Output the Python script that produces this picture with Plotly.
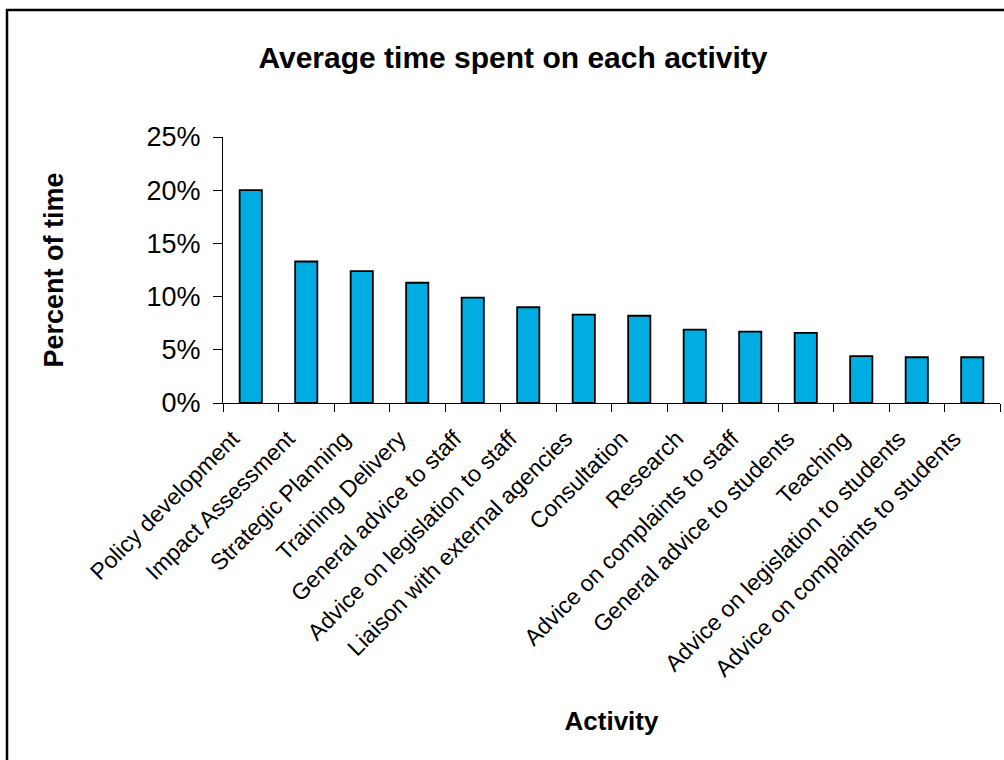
import plotly.graph_objects as go

activities = [
    "Policy development",
    "Impact Assessment",
    "Strategic Planning",
    "Training Delivery",
    "General advice to staff",
    "Advice on legislation to staff",
    "Liaison with external agencies",
    "Consultation",
    "Research",
    "Advice on complaints to staff",
    "General advice to students",
    "Teaching",
    "Advice on legislation to students",
    "Advice on complaints to students",
]
share_of_time = [0.200, 0.133, 0.124, 0.113, 0.099, 0.090, 0.083,
                 0.082, 0.069, 0.067, 0.066, 0.044, 0.043, 0.043]

FONT = "Arial, Liberation Sans, sans-serif"
W, H = 1004, 760
L, R, T, B = 223, 4, 137, 357

fig = go.Figure(
    go.Bar(
        x=activities,
        y=share_of_time,
        width=0.4,
        marker=dict(color="#00ADE2", line=dict(color="black", width=1.8)),
    )
)

plot_w = W - L - R
plot_h = H - T - B


def px_x(v):
    return (v - L) / plot_w


def px_y(v):
    return (H - B - v) / plot_h


fig.update_layout(
    width=W,
    height=H,
    margin=dict(l=L, r=R, t=T, b=B),
    paper_bgcolor="white",
    plot_bgcolor="white",
    showlegend=False,
    font=dict(family=FONT, color="black"),
    title=dict(
        text="<b>Average time spent on each activity</b>",
        font=dict(size=30, family=FONT, color="black"),
        x=513 / W,
        xref="container",
        xanchor="center",
        y=1 - 57 / H,
        yref="container",
        yanchor="middle",
    ),
    shapes=[
        dict(
            type="rect",
            xref="paper",
            yref="paper",
            x0=px_x(7),
            x1=px_x(1030),
            y0=px_y(790),
            y1=px_y(10),
            line=dict(color="black", width=2.5),
            fillcolor="rgba(0,0,0,0)",
            layer="above",
        )
    ],
)

fig.update_xaxes(
    type="category",
    tickangle=-45,
    tickfont=dict(size=23, family=FONT, color="black"),
    ticklabelshift=-18,
    ticklabelstandoff=12,
    showline=True,
    linecolor="black",
    linewidth=1.2,
    ticks="outside",
    tickson="boundaries",
    ticklen=8,
    tickcolor="black",
    showgrid=False,
    title=dict(
        text="<b>Activity</b>",
        font=dict(size=26, family=FONT, color="black"),
        standoff=31,
    ),
)

fig.update_yaxes(
    range=[0, 0.25],
    dtick=0.05,
    tickformat=".0%",
    tickfont=dict(size=27, family=FONT, color="black"),
    ticklabelstandoff=7,
    showline=True,
    linecolor="black",
    linewidth=1.2,
    ticks="outside",
    ticklen=9,
    tickcolor="black",
    showgrid=False,
    zeroline=False,
    title=dict(
        text="<b>Percent of time</b>",
        font=dict(size=27, family=FONT, color="black"),
        standoff=75,
    ),
)

fig.write_html("out.html")
